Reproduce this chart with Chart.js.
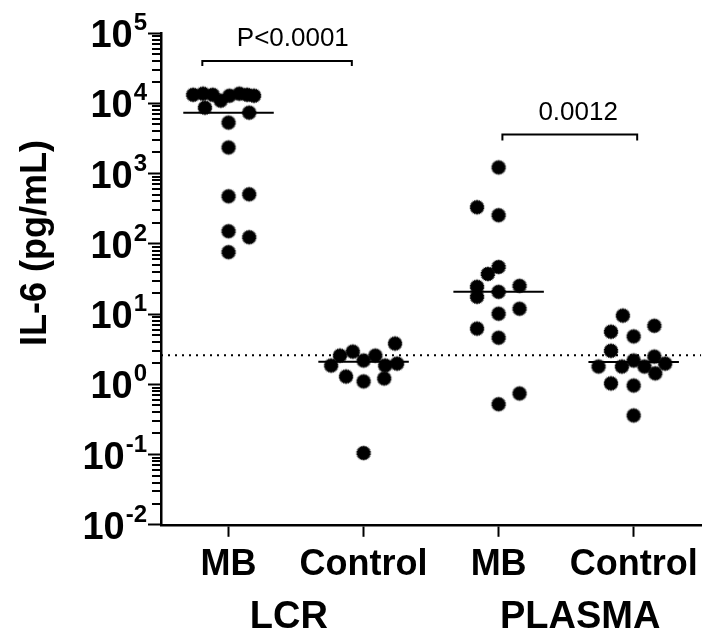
<!DOCTYPE html>
<html>
<head>
<meta charset="utf-8">
<script src="https://cdn.jsdelivr.net/npm/chart.js@4.4.1/dist/chart.umd.min.js"></script>
<style>
  html, body { margin: 0; padding: 0; background: #fff; }
  #wrap { width: 710px; height: 637px; }
</style>
</head>
<body>
<div id="wrap"><canvas id="il6-chart"></canvas></div>
<script>
// categories
const groupLabels = ["MB", "Control", "MB", "Control"];
const sampleTypes = ["LCR", "PLASMA"];
const yTickExponents = [-2, -1, 0, 1, 2, 3, 4, 5];
const minorMultipliers = [2, 3, 4, 5, 6, 7, 8, 9];

// IL-6 values (pg/mL) per group, with horizontal jitter (category units)
const mbLcrValues = [13200, 13700, 13200, 10900, 12800, 13700, 13200, 12800, 8650, 7350, 5310, 2350, 474, 506, 151, 124, 76];
const mbLcrJitter = [-0.262, -0.189, -0.117, -0.058, 0.007, 0.08, 0.138, 0.189, -0.175, 0.153, 0, 0, 0, 0.153, 0, 0.153, 0];

const controlLcrValues = [3.8, 2.56, 1.85, 2.92, 2.18, 2.56, 1.85, 1.97, 1.29, 1.10, 1.21, 0.105];
const controlLcrJitter = [0.233, -0.175, -0.24, -0.08, 0, 0.087, 0.16, 0.248, -0.13, 0, 0.153, 0];

const mbPlasmaValues = [1222, 331, 255, 46.8, 37.2, 24.4, 17.6, 20.7, 25.2, 10.1, 11.9, 6.2, 4.6, 0.74, 0.52];
const mbPlasmaJitter = [0, -0.16, 0, 0, -0.08, -0.16, -0.16, 0, 0.155, 0, 0.155, -0.16, 0, 0.155, 0];

const controlPlasmaValues = [9.5, 6.8, 5.6, 4.8, 3.0, 1.79, 1.79, 2.18, 1.79, 2.48, 1.97, 1.43, 1.03, 0.96, 0.36];
const controlPlasmaJitter = [-0.08, 0.153, -0.168, 0, -0.168, -0.26, -0.087, 0, 0.08, 0.153, 0.233, 0.16, -0.168, 0, 0];

const groupMedians = [7350, 2.1, 20.7, 2.07];
const detectionLimit = 2.6;

// significance brackets
const comparisons = [
  { from: 0.806, to: 1.913, top: 40100, drop: 34000, label: "P<0.0001", labelX: 1.476 },
  { from: 3.028, to: 4.026, top: 3590, drop: 2950, label: "0.0012", labelX: 3.589 }
];
const sampleLabelX = [1.447, 3.604];

function spikyDot(r) {
  const c = document.createElement("canvas");
  const s = Math.ceil(r * 2 + 2);
  c.width = c.height = s;
  const g = c.getContext("2d");
  g.fillStyle = "#000";
  g.beginPath();
  const n = 26;
  for (let i = 0; i < n * 2; i++) {
    const a = (i / (n * 2)) * Math.PI * 2;
    const rr = i % 2 ? r - 1.3 : r;
    g.lineTo(s / 2 + rr * Math.cos(a), s / 2 + rr * Math.sin(a));
  }
  g.closePath();
  g.fill();
  return c;
}
const dot = spikyDot(7.8);

function pts(center, values, jitter) {
  return values.map((v, i) => ({ x: center + jitter[i], y: v }));
}

const scatterSets = [
  pts(1, mbLcrValues, mbLcrJitter),
  pts(2, controlLcrValues, controlLcrJitter),
  pts(3, mbPlasmaValues, mbPlasmaJitter),
  pts(4, controlPlasmaValues, controlPlasmaJitter)
].map(data => ({
  data: data,
  pointStyle: dot,
  pointRadius: 7.8,
  showLine: false
}));

const lineStyle = { showLine: true, pointRadius: 0, borderColor: "#000", borderWidth: 2, fill: false };

const medianSets = groupMedians.map((m, i) => Object.assign({
  data: [{ x: i + 1 - 0.335, y: m }, { x: i + 1 + 0.335, y: m }]
}, lineStyle));

const limitSet = Object.assign({
  data: [{ x: 0.5, y: detectionLimit }, { x: 4.5, y: detectionLimit }],
  borderDash: [2, 5]
}, lineStyle);

const bracketSets = comparisons.map(c => Object.assign({
  data: [{ x: c.from, y: c.drop }, { x: c.from, y: c.top }, { x: c.to, y: c.top }, { x: c.to, y: c.drop }]
}, lineStyle));

const FONT = "'Liberation Sans', Arial, sans-serif";

const textPlugin = {
  id: "il6Text",
  afterDraw(chart) {
    const { ctx, scales: { x, y } } = chart;
    ctx.save();
    ctx.fillStyle = "#000";
    ctx.textBaseline = "alphabetic";

    // minor ticks on the log axis, placed through the y scale
    const axisX = chart.chartArea.left;
    yTickExponents.slice(0, -1).forEach(e => {
      minorMultipliers.forEach(m => {
        const py = Math.round(y.getPixelForValue(m * Math.pow(10, e)));
        ctx.fillRect(axisX - 9, py - 1, 9, 2);
      });
    });

    // y tick labels 10^n
    const right = axisX - 14;
    yTickExponents.forEach(e => {
      const py = y.getPixelForValue(Math.pow(10, e));
      const sup = String(e);
      ctx.textAlign = "right";
      ctx.font = "bold 24px " + FONT;
      const sw = ctx.measureText(sup).width;
      ctx.fillText(sup, right, py - 3);
      ctx.font = "bold 38px " + FONT;
      ctx.fillText("10", right - sw - 1, py + 14);
    });

    // y axis title
    ctx.save();
    ctx.translate(46, 243);
    ctx.rotate(-Math.PI / 2);
    ctx.textAlign = "center";
    ctx.font = "bold 36px " + FONT;
    ctx.fillText("IL-6 (pg/mL)", 0, 0);
    ctx.restore();

    // sample type labels
    ctx.textAlign = "center";
    ctx.font = "bold 38px " + FONT;
    sampleTypes.forEach((t, i) => ctx.fillText(t, x.getPixelForValue(sampleLabelX[i]), 628));

    // p values
    ctx.font = "26px " + FONT;
    comparisons.forEach(c => {
      ctx.fillText(c.label, x.getPixelForValue(c.labelX), y.getPixelForValue(c.top) - 15);
    });
    ctx.restore();
  }
};

new Chart(document.getElementById("il6-chart"), {
  type: "scatter",
  data: {
    datasets: scatterSets.concat(medianSets, [limitSet], bracketSets)
  },
  options: {
    responsive: true,
    maintainAspectRatio: false,
    animation: false,
    layout: { padding: { left: 148, top: 33, right: 0, bottom: 43 } },
    plugins: { legend: { display: false }, tooltip: { enabled: false } },
    scales: {
      x: {
        type: "linear",
        min: 0.5,
        max: 4.5,
        afterBuildTicks: s => { s.ticks = groupLabels.map((l, i) => ({ value: i + 1 })); },
        ticks: {
          color: "#000",
          font: { family: FONT, size: 36, weight: "bold" },
          padding: 7,
          autoSkip: false,
          maxRotation: 0,
          callback: v => groupLabels[v - 1] || ""
        },
        grid: { drawOnChartArea: false, tickLength: 12, tickWidth: 2, tickColor: "#000" },
        border: { color: "#000", width: 2.5 }
      },
      y: {
        type: "logarithmic",
        min: 0.01,
        max: 100000,
        afterBuildTicks: s => { s.ticks = yTickExponents.map(e => ({ value: Math.pow(10, e) })); },
        ticks: { display: false },
        grid: { drawOnChartArea: false, tickLength: 13, tickWidth: 2, tickColor: "#000" },
        border: { color: "#000", width: 2.5 }
      }
    }
  },
  plugins: [textPlugin]
});
</script>
</body>
</html>
